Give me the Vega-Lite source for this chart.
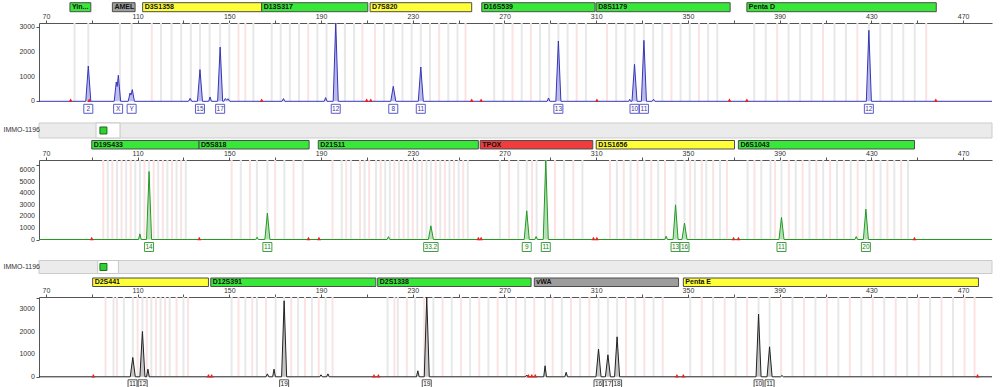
{
"$schema": "https://vega.github.io/schema/vega-lite/v6.json",
"padding": {"left": 3, "top": 0, "right": 8, "bottom": 0},
"bounds": "flush",
"spacing": 0,
"config": {
  "view": {"stroke": null},
  "font": "Liberation Sans",
  "axis": {"labelFont": "Liberation Sans", "labelFontSize": 7, "labelColor": "#333333", "tickColor": "#555555", "domainColor": "#555555", "grid": false, "tickSize": 3, "labelPadding": 1, "labelFlush": false, "labelOverlap": false}
},
"datasets": {
  "loci_blue": [
    {"dye": "blue", "locus": "Yin...", "start": 80.5, "end": 89.6, "status": "ok"},
    {"dye": "blue", "locus": "AMEL", "start": 99, "end": 108.9, "status": "info"},
    {"dye": "blue", "locus": "D3S1358", "start": 112.2, "end": 164.1, "status": "check"},
    {"dye": "blue", "locus": "D13S317", "start": 164.1, "end": 210.4, "status": "ok"},
    {"dye": "blue", "locus": "D7S820", "start": 211.4, "end": 255.7, "status": "check"},
    {"dye": "blue", "locus": "D16S539", "start": 260.1, "end": 309.5, "status": "ok"},
    {"dye": "blue", "locus": "D8S1179", "start": 310, "end": 368.4, "status": "ok"},
    {"dye": "blue", "locus": "Penta D", "start": 375.7, "end": 458.3, "status": "ok"}
  ],
  "loci_green": [
    {"dye": "green", "locus": "D19S433", "start": 90, "end": 136.8, "status": "ok"},
    {"dye": "green", "locus": "D5S818", "start": 136.8, "end": 184.8, "status": "ok"},
    {"dye": "green", "locus": "D21S11", "start": 188.8, "end": 258.6, "status": "ok"},
    {"dye": "green", "locus": "TPOX", "start": 259.4, "end": 308.5, "status": "fail"},
    {"dye": "green", "locus": "D1S1656", "start": 310, "end": 370.3, "status": "check"},
    {"dye": "green", "locus": "D6S1043", "start": 372, "end": 448.8, "status": "ok"}
  ],
  "loci_black": [
    {"dye": "black", "locus": "D2S441", "start": 90.4, "end": 140.9, "status": "check"},
    {"dye": "black", "locus": "D12S391", "start": 141.9, "end": 213.9, "status": "ok"},
    {"dye": "black", "locus": "D2S1338", "start": 214.7, "end": 281.6, "status": "ok"},
    {"dye": "black", "locus": "vWA", "start": 283, "end": 345.9, "status": "info"},
    {"dye": "black", "locus": "Penta E", "start": 348, "end": 476.7, "status": "check"}
  ],
  "bins_blue": [
    {"bp": 82.5, "kind": "bin"}, {"bp": 88.5, "kind": "bin"}, {"bp": 102.3, "kind": "bin"}, {"bp": 107.4, "kind": "bin"},
    {"bp": 116.2, "kind": "virtual"}, {"bp": 120.2, "kind": "bin"}, {"bp": 124.8, "kind": "bin"}, {"bp": 129, "kind": "bin"}, {"bp": 133.2, "kind": "bin"}, {"bp": 137.2, "kind": "bin"}, {"bp": 141.4, "kind": "bin"}, {"bp": 146, "kind": "bin"}, {"bp": 150, "kind": "bin"}, {"bp": 154, "kind": "virtual"}, {"bp": 157, "kind": "virtual"}, {"bp": 160.5, "kind": "bin"},
    {"bp": 168.5, "kind": "bin"}, {"bp": 172.4, "kind": "bin"}, {"bp": 176.4, "kind": "bin"}, {"bp": 180.4, "kind": "bin"}, {"bp": 184.4, "kind": "virtual"}, {"bp": 188.4, "kind": "bin"}, {"bp": 192.4, "kind": "bin"}, {"bp": 196.4, "kind": "bin"}, {"bp": 200.4, "kind": "bin"}, {"bp": 204.4, "kind": "bin"}, {"bp": 208, "kind": "virtual"},
    {"bp": 213.5, "kind": "virtual"}, {"bp": 217.5, "kind": "bin"}, {"bp": 221.5, "kind": "bin"}, {"bp": 225.5, "kind": "bin"}, {"bp": 229.5, "kind": "bin"}, {"bp": 233.5, "kind": "bin"}, {"bp": 237.5, "kind": "bin"}, {"bp": 241.5, "kind": "virtual"}, {"bp": 245.5, "kind": "bin"}, {"bp": 249.5, "kind": "bin"}, {"bp": 253, "kind": "virtual"},
    {"bp": 265.5, "kind": "bin"}, {"bp": 269.5, "kind": "bin"}, {"bp": 273.5, "kind": "virtual"}, {"bp": 277.5, "kind": "bin"}, {"bp": 281.5, "kind": "virtual"}, {"bp": 285.5, "kind": "bin"}, {"bp": 289.5, "kind": "bin"}, {"bp": 293.5, "kind": "bin"}, {"bp": 297.5, "kind": "bin"}, {"bp": 301.5, "kind": "virtual"}, {"bp": 305.5, "kind": "bin"},
    {"bp": 314.7, "kind": "virtual"}, {"bp": 318.7, "kind": "bin"}, {"bp": 322.7, "kind": "bin"}, {"bp": 326.7, "kind": "bin"}, {"bp": 330.8, "kind": "bin"}, {"bp": 334.8, "kind": "bin"}, {"bp": 338.8, "kind": "bin"}, {"bp": 342.8, "kind": "virtual"}, {"bp": 346.8, "kind": "bin"}, {"bp": 350.8, "kind": "bin"}, {"bp": 354.8, "kind": "virtual"}, {"bp": 358.8, "kind": "bin"}, {"bp": 362.8, "kind": "bin"},
    {"bp": 378.9, "kind": "bin"}, {"bp": 383.9, "kind": "bin"}, {"bp": 388.9, "kind": "virtual"}, {"bp": 393.9, "kind": "bin"}, {"bp": 398.9, "kind": "bin"}, {"bp": 403.9, "kind": "bin"}, {"bp": 408.9, "kind": "virtual"}, {"bp": 413.9, "kind": "bin"}, {"bp": 418.9, "kind": "bin"}, {"bp": 423.9, "kind": "virtual"}, {"bp": 428.9, "kind": "bin"}, {"bp": 433.9, "kind": "bin"}, {"bp": 438.9, "kind": "bin"}, {"bp": 443.9, "kind": "bin"}, {"bp": 448.9, "kind": "bin"}, {"bp": 453.9, "kind": "virtual"}
  ],
  "bins_green": [
    {"bp": 95, "kind": "virtual"}, {"bp": 97, "kind": "bin"}, {"bp": 99, "kind": "virtual"}, {"bp": 101, "kind": "bin"}, {"bp": 103, "kind": "virtual"}, {"bp": 105, "kind": "bin"}, {"bp": 107, "kind": "virtual"}, {"bp": 109, "kind": "bin"}, {"bp": 111, "kind": "bin"}, {"bp": 113, "kind": "virtual"}, {"bp": 115, "kind": "bin"}, {"bp": 117, "kind": "virtual"}, {"bp": 119, "kind": "bin"}, {"bp": 121, "kind": "virtual"}, {"bp": 123, "kind": "bin"}, {"bp": 125, "kind": "virtual"}, {"bp": 127, "kind": "bin"}, {"bp": 129, "kind": "virtual"}, {"bp": 131, "kind": "bin"},
    {"bp": 151, "kind": "virtual"}, {"bp": 155, "kind": "bin"}, {"bp": 159, "kind": "virtual"}, {"bp": 162, "kind": "bin"}, {"bp": 166.6, "kind": "bin"}, {"bp": 170, "kind": "virtual"}, {"bp": 174, "kind": "bin"}, {"bp": 178, "kind": "virtual"}, {"bp": 182, "kind": "bin"},
    {"bp": 195, "kind": "virtual"}, {"bp": 199, "kind": "bin"}, {"bp": 201, "kind": "virtual"}, {"bp": 203, "kind": "bin"}, {"bp": 207, "kind": "virtual"}, {"bp": 209, "kind": "bin"}, {"bp": 211, "kind": "virtual"}, {"bp": 214, "kind": "bin"}, {"bp": 216, "kind": "virtual"}, {"bp": 218, "kind": "bin"}, {"bp": 220, "kind": "bin"}, {"bp": 222, "kind": "virtual"}, {"bp": 224, "kind": "bin"}, {"bp": 226, "kind": "virtual"}, {"bp": 228, "kind": "bin"}, {"bp": 230, "kind": "virtual"}, {"bp": 232, "kind": "bin"}, {"bp": 234, "kind": "virtual"}, {"bp": 236, "kind": "bin"}, {"bp": 237.9, "kind": "bin"}, {"bp": 240, "kind": "virtual"}, {"bp": 242, "kind": "bin"}, {"bp": 244, "kind": "virtual"}, {"bp": 246, "kind": "bin"}, {"bp": 248, "kind": "virtual"}, {"bp": 250, "kind": "bin"}, {"bp": 252, "kind": "virtual"}, {"bp": 254, "kind": "bin"},
    {"bp": 268, "kind": "bin"}, {"bp": 272, "kind": "virtual"}, {"bp": 276, "kind": "bin"}, {"bp": 279.7, "kind": "bin"}, {"bp": 282, "kind": "virtual"}, {"bp": 284, "kind": "bin"}, {"bp": 288, "kind": "bin"}, {"bp": 292, "kind": "virtual"}, {"bp": 296, "kind": "bin"}, {"bp": 300, "kind": "virtual"}, {"bp": 304, "kind": "bin"},
    {"bp": 316, "kind": "virtual"}, {"bp": 319, "kind": "bin"}, {"bp": 322, "kind": "virtual"}, {"bp": 325, "kind": "bin"}, {"bp": 328, "kind": "virtual"}, {"bp": 331, "kind": "bin"}, {"bp": 334, "kind": "virtual"}, {"bp": 337, "kind": "bin"}, {"bp": 340, "kind": "virtual"}, {"bp": 344.6, "kind": "bin"}, {"bp": 348.5, "kind": "bin"}, {"bp": 351, "kind": "virtual"}, {"bp": 353, "kind": "bin"}, {"bp": 356, "kind": "virtual"}, {"bp": 358, "kind": "bin"}, {"bp": 361, "kind": "virtual"}, {"bp": 364, "kind": "bin"}, {"bp": 367, "kind": "virtual"},
    {"bp": 376, "kind": "bin"}, {"bp": 379, "kind": "virtual"}, {"bp": 382, "kind": "bin"}, {"bp": 386, "kind": "bin"}, {"bp": 388, "kind": "virtual"}, {"bp": 390.8, "kind": "bin"}, {"bp": 394, "kind": "virtual"}, {"bp": 397, "kind": "bin"}, {"bp": 400, "kind": "virtual"}, {"bp": 403, "kind": "bin"}, {"bp": 406, "kind": "virtual"}, {"bp": 409, "kind": "bin"}, {"bp": 412, "kind": "virtual"}, {"bp": 415, "kind": "bin"}, {"bp": 418, "kind": "virtual"}, {"bp": 421, "kind": "bin"}, {"bp": 424, "kind": "virtual"}, {"bp": 427.6, "kind": "bin"}, {"bp": 431, "kind": "virtual"}, {"bp": 434, "kind": "bin"}, {"bp": 437, "kind": "virtual"}, {"bp": 440, "kind": "bin"}, {"bp": 443, "kind": "virtual"}, {"bp": 446, "kind": "bin"}
  ],
  "bins_black": [
    {"bp": 96, "kind": "virtual"}, {"bp": 99.5, "kind": "bin"}, {"bp": 101, "kind": "virtual"}, {"bp": 104, "kind": "bin"}, {"bp": 107.9, "kind": "bin"}, {"bp": 110, "kind": "virtual"}, {"bp": 112.1, "kind": "bin"}, {"bp": 114, "kind": "virtual"}, {"bp": 116, "kind": "bin"}, {"bp": 118, "kind": "virtual"}, {"bp": 120, "kind": "bin"}, {"bp": 122, "kind": "virtual"}, {"bp": 124, "kind": "bin"}, {"bp": 127, "kind": "virtual"}, {"bp": 130, "kind": "bin"}, {"bp": 132, "kind": "virtual"},
    {"bp": 151, "kind": "bin"}, {"bp": 154, "kind": "virtual"}, {"bp": 157, "kind": "bin"}, {"bp": 160, "kind": "virtual"}, {"bp": 162, "kind": "bin"}, {"bp": 166, "kind": "virtual"}, {"bp": 170.2, "kind": "bin"}, {"bp": 173.9, "kind": "bin"}, {"bp": 177, "kind": "virtual"}, {"bp": 180, "kind": "bin"}, {"bp": 183, "kind": "virtual"}, {"bp": 186, "kind": "bin"}, {"bp": 189, "kind": "virtual"}, {"bp": 192, "kind": "bin"}, {"bp": 195, "kind": "virtual"},
    {"bp": 219, "kind": "bin"}, {"bp": 222, "kind": "virtual"}, {"bp": 223.5, "kind": "bin"}, {"bp": 227.4, "kind": "virtual"}, {"bp": 231, "kind": "bin"}, {"bp": 235, "kind": "virtual"}, {"bp": 239, "kind": "bin"}, {"bp": 243, "kind": "virtual"}, {"bp": 247, "kind": "bin"}, {"bp": 251, "kind": "virtual"}, {"bp": 255, "kind": "bin"}, {"bp": 259, "kind": "virtual"}, {"bp": 263, "kind": "bin"}, {"bp": 267, "kind": "virtual"}, {"bp": 271, "kind": "bin"}, {"bp": 275, "kind": "virtual"},
    {"bp": 279, "kind": "bin"}, {"bp": 283, "kind": "virtual"}, {"bp": 287.7, "kind": "bin"}, {"bp": 291, "kind": "virtual"}, {"bp": 295, "kind": "bin"}, {"bp": 299, "kind": "virtual"}, {"bp": 303, "kind": "bin"}, {"bp": 307, "kind": "virtual"}, {"bp": 311, "kind": "bin"}, {"bp": 315.1, "kind": "bin"}, {"bp": 319.1, "kind": "bin"}, {"bp": 323, "kind": "virtual"}, {"bp": 327, "kind": "bin"}, {"bp": 331, "kind": "virtual"}, {"bp": 335, "kind": "bin"}, {"bp": 339, "kind": "virtual"},
    {"bp": 351, "kind": "bin"}, {"bp": 356, "kind": "virtual"}, {"bp": 361, "kind": "bin"}, {"bp": 366, "kind": "virtual"}, {"bp": 370.8, "kind": "bin"}, {"bp": 375.8, "kind": "virtual"}, {"bp": 380.8, "kind": "bin"}, {"bp": 385.6, "kind": "bin"}, {"bp": 390.6, "kind": "virtual"}, {"bp": 395.6, "kind": "bin"}, {"bp": 400.6, "kind": "virtual"}, {"bp": 405.6, "kind": "bin"}, {"bp": 410.6, "kind": "virtual"}, {"bp": 415.6, "kind": "bin"}, {"bp": 420.6, "kind": "virtual"}, {"bp": 425.6, "kind": "bin"}, {"bp": 430.6, "kind": "virtual"}, {"bp": 435.6, "kind": "bin"}, {"bp": 440.6, "kind": "virtual"}, {"bp": 445.6, "kind": "bin"}, {"bp": 450.6, "kind": "virtual"}, {"bp": 455.6, "kind": "bin"}, {"bp": 460.6, "kind": "virtual"}, {"bp": 465.6, "kind": "bin"}, {"bp": 470.6, "kind": "virtual"}, {"bp": 475, "kind": "virtual"}
  ],
  "trace_blue": [
    {"bp": 67, "rfu": 0},
    {"bp": 87.4, "rfu": 0}, {"bp": 88.5, "rfu": 1425}, {"bp": 89.6, "rfu": 0},
    {"bp": 99.8, "rfu": 0}, {"bp": 100.7, "rfu": 780}, {"bp": 101.1, "rfu": 600}, {"bp": 101.6, "rfu": 1050}, {"bp": 102.6, "rfu": 0},
    {"bp": 105.9, "rfu": 0}, {"bp": 106.7, "rfu": 336}, {"bp": 107.1, "rfu": 250}, {"bp": 107.7, "rfu": 471}, {"bp": 108.6, "rfu": 0},
    {"bp": 132.2, "rfu": 0}, {"bp": 132.9, "rfu": 120}, {"bp": 133.6, "rfu": 0},
    {"bp": 136.1, "rfu": 0}, {"bp": 137.2, "rfu": 1280}, {"bp": 138.3, "rfu": 0},
    {"bp": 141, "rfu": 0}, {"bp": 141.6, "rfu": 175}, {"bp": 142.2, "rfu": 0},
    {"bp": 144.9, "rfu": 0}, {"bp": 146, "rfu": 2190}, {"bp": 147.1, "rfu": 0},
    {"bp": 147.6, "rfu": 0}, {"bp": 148.2, "rfu": 110}, {"bp": 148.8, "rfu": 60}, {"bp": 149.5, "rfu": 100}, {"bp": 150.2, "rfu": 0},
    {"bp": 173, "rfu": 0}, {"bp": 173.6, "rfu": 110}, {"bp": 174.2, "rfu": 0},
    {"bp": 191.4, "rfu": 0}, {"bp": 192, "rfu": 150}, {"bp": 192.6, "rfu": 0},
    {"bp": 195.3, "rfu": 0}, {"bp": 196.4, "rfu": 3160}, {"bp": 197.5, "rfu": 0},
    {"bp": 220.4, "rfu": 0}, {"bp": 221.5, "rfu": 605}, {"bp": 222.6, "rfu": 0},
    {"bp": 232.4, "rfu": 0}, {"bp": 233.5, "rfu": 1385}, {"bp": 234.6, "rfu": 0},
    {"bp": 288.6, "rfu": 0}, {"bp": 289.2, "rfu": 135}, {"bp": 289.8, "rfu": 0},
    {"bp": 292.4, "rfu": 0}, {"bp": 293.5, "rfu": 2435}, {"bp": 294.6, "rfu": 0},
    {"bp": 324.2, "rfu": 0}, {"bp": 324.6, "rfu": 80}, {"bp": 325, "rfu": 0},
    {"bp": 325.6, "rfu": 0}, {"bp": 326.7, "rfu": 1494}, {"bp": 327.8, "rfu": 0},
    {"bp": 329.7, "rfu": 0}, {"bp": 330.8, "rfu": 2463}, {"bp": 331.9, "rfu": 0},
    {"bp": 334.4, "rfu": 0}, {"bp": 335, "rfu": 80}, {"bp": 335.6, "rfu": 0},
    {"bp": 427.8, "rfu": 0}, {"bp": 428.9, "rfu": 2866}, {"bp": 430, "rfu": 0},
    {"bp": 482.6, "rfu": 0}
  ],
  "trace_green": [
    {"bp": 67, "rfu": 0},
    {"bp": 110.4, "rfu": 0}, {"bp": 111, "rfu": 490}, {"bp": 111.6, "rfu": 0},
    {"bp": 113.9, "rfu": 0}, {"bp": 115, "rfu": 5913}, {"bp": 116.1, "rfu": 0},
    {"bp": 161.5, "rfu": 0}, {"bp": 162.1, "rfu": 200}, {"bp": 162.7, "rfu": 0},
    {"bp": 165.5, "rfu": 0}, {"bp": 166.6, "rfu": 2290}, {"bp": 167.7, "rfu": 0},
    {"bp": 218.8, "rfu": 0}, {"bp": 219.4, "rfu": 250}, {"bp": 220, "rfu": 0},
    {"bp": 236.8, "rfu": 0}, {"bp": 237.9, "rfu": 1190}, {"bp": 239, "rfu": 0},
    {"bp": 278.6, "rfu": 0}, {"bp": 279.7, "rfu": 2493}, {"bp": 280.8, "rfu": 0},
    {"bp": 283.2, "rfu": 0}, {"bp": 283.8, "rfu": 260}, {"bp": 284.4, "rfu": 0},
    {"bp": 286.9, "rfu": 0}, {"bp": 288, "rfu": 6900}, {"bp": 289.1, "rfu": 0},
    {"bp": 339.9, "rfu": 0}, {"bp": 340.5, "rfu": 290}, {"bp": 341.1, "rfu": 0},
    {"bp": 343.5, "rfu": 0}, {"bp": 344.6, "rfu": 3014}, {"bp": 345.7, "rfu": 0},
    {"bp": 347.4, "rfu": 0}, {"bp": 348.5, "rfu": 1420}, {"bp": 349.6, "rfu": 0},
    {"bp": 389.7, "rfu": 0}, {"bp": 390.8, "rfu": 1913}, {"bp": 391.9, "rfu": 0},
    {"bp": 422.8, "rfu": 0}, {"bp": 423.4, "rfu": 260}, {"bp": 424, "rfu": 0},
    {"bp": 426.5, "rfu": 0}, {"bp": 427.6, "rfu": 2638}, {"bp": 428.7, "rfu": 0},
    {"bp": 482.6, "rfu": 0}
  ],
  "trace_black": [
    {"bp": 67, "rfu": 0},
    {"bp": 106.8, "rfu": 0}, {"bp": 107.9, "rfu": 857}, {"bp": 109, "rfu": 0},
    {"bp": 111, "rfu": 0}, {"bp": 112.1, "rfu": 2009}, {"bp": 113.2, "rfu": 0},
    {"bp": 113.9, "rfu": 0}, {"bp": 114.5, "rfu": 340}, {"bp": 115.1, "rfu": 0},
    {"bp": 166, "rfu": 0}, {"bp": 166.6, "rfu": 130}, {"bp": 167.2, "rfu": 0},
    {"bp": 168.9, "rfu": 0}, {"bp": 169.5, "rfu": 340}, {"bp": 170.1, "rfu": 0},
    {"bp": 172.8, "rfu": 0}, {"bp": 173.9, "rfu": 3369}, {"bp": 175, "rfu": 0},
    {"bp": 189.4, "rfu": 0}, {"bp": 190, "rfu": 90}, {"bp": 190.6, "rfu": 0},
    {"bp": 192.4, "rfu": 0}, {"bp": 193, "rfu": 130}, {"bp": 193.6, "rfu": 0},
    {"bp": 231.6, "rfu": 0}, {"bp": 232.2, "rfu": 266}, {"bp": 232.8, "rfu": 0},
    {"bp": 235, "rfu": 0}, {"bp": 236.1, "rfu": 3530}, {"bp": 237.2, "rfu": 0},
    {"bp": 279.1, "rfu": 0}, {"bp": 279.7, "rfu": 80}, {"bp": 280.3, "rfu": 0},
    {"bp": 287.1, "rfu": 0}, {"bp": 287.7, "rfu": 488}, {"bp": 288.3, "rfu": 0},
    {"bp": 296.3, "rfu": 0}, {"bp": 296.9, "rfu": 200}, {"bp": 297.5, "rfu": 0},
    {"bp": 309.9, "rfu": 0}, {"bp": 311, "rfu": 1226}, {"bp": 312.1, "rfu": 0},
    {"bp": 314, "rfu": 0}, {"bp": 315.1, "rfu": 975}, {"bp": 316.2, "rfu": 0},
    {"bp": 318, "rfu": 0}, {"bp": 319.1, "rfu": 1773}, {"bp": 320.2, "rfu": 0},
    {"bp": 379.7, "rfu": 0}, {"bp": 380.8, "rfu": 2778}, {"bp": 381.9, "rfu": 0},
    {"bp": 384.5, "rfu": 0}, {"bp": 385.6, "rfu": 1330}, {"bp": 386.7, "rfu": 0},
    {"bp": 390.4, "rfu": 0}, {"bp": 391, "rfu": 60}, {"bp": 391.6, "rfu": 0},
    {"bp": 482.6, "rfu": 0}
  ],
  "alleles_blue": [
    {"bp": 88.5, "allele": "2"}, {"bp": 101.5, "allele": "X"}, {"bp": 107.4, "allele": "Y"}, {"bp": 137.2, "allele": "15"}, {"bp": 146, "allele": "17"}, {"bp": 196.4, "allele": "12"}, {"bp": 221.5, "allele": "8"}, {"bp": 233.5, "allele": "11"}, {"bp": 293.5, "allele": "13"}, {"bp": 326.7, "allele": "10"}, {"bp": 330.8, "allele": "11"}, {"bp": 428.9, "allele": "12"}
  ],
  "alleles_green": [
    {"bp": 115, "allele": "14"}, {"bp": 166.6, "allele": "11"}, {"bp": 237.9, "allele": "33.2"}, {"bp": 279.7, "allele": "9"}, {"bp": 288, "allele": "11"}, {"bp": 344.6, "allele": "13"}, {"bp": 348.5, "allele": "16"}, {"bp": 390.8, "allele": "11"}, {"bp": 427.6, "allele": "20"}
  ],
  "alleles_black": [
    {"bp": 107.8, "allele": "11"}, {"bp": 112.2, "allele": "12"}, {"bp": 173.9, "allele": "19"}, {"bp": 236.1, "allele": "19"}, {"bp": 311, "allele": "16"}, {"bp": 315.1, "allele": "17"}, {"bp": 319.1, "allele": "18"}, {"bp": 380.8, "allele": "10"}, {"bp": 385.6, "allele": "11"}
  ],
  "markers_blue": [
    {"bp": 80.8}, {"bp": 88.9}, {"bp": 164.1}, {"bp": 209.9}, {"bp": 211.7}, {"bp": 255.7}, {"bp": 259.8}, {"bp": 310.3}, {"bp": 368.1}, {"bp": 375.7}, {"bp": 458.1}
  ],
  "markers_green": [
    {"bp": 90}, {"bp": 136.9}, {"bp": 184.5}, {"bp": 189.1}, {"bp": 258.6}, {"bp": 259.8}, {"bp": 308.8}, {"bp": 310.3}, {"bp": 369.9}, {"bp": 372}, {"bp": 448.8}
  ],
  "markers_black": [
    {"bp": 90.7}, {"bp": 140.9}, {"bp": 142.3}, {"bp": 213.1}, {"bp": 215}, {"bp": 280.4}, {"bp": 281.9}, {"bp": 283.4}, {"bp": 345.2}, {"bp": 348}, {"bp": 476.3}
  ],
  "sample": [{"sample": "IMMO-1196"}],
  "tick": [{"label": "tick"}]
},
"vconcat": [
  {
    "width": 953, "height": 22.7,
    "data": {"name": "loci_blue"},
    "encoding": {
      "x": {"field": "start", "type": "quantitative", "scale": {"domain": [67, 482.6], "nice": false, "zero": false}, "axis": null},
      "y": {"field": "dye", "type": "nominal", "axis": null, "scale": {"paddingInner": 0, "paddingOuter": 0.761, "align": 0.197}}
    },
    "layer": [
      {"mark": {"type": "rect", "stroke": "#4d4d4d", "strokeWidth": 1}, "encoding": {"x2": {"field": "end"}, "fill": {"field": "status", "type": "nominal", "scale": {"domain": ["ok", "check", "fail", "info"], "range": ["#38e838", "#ffff38", "#f03c3c", "#9d9d9d"]}, "legend": null}}},
      {"mark": {"type": "text", "align": "left", "dx": 2, "fontSize": 7, "fontWeight": "bold", "color": "#111111", "baseline": "middle"}, "encoding": {"text": {"field": "locus"}}}
    ]
  },
  {
    "width": 953, "height": 78.3,
    "layer": [
      {"data": {"name": "bins_blue"}, "mark": {"type": "rule", "strokeWidth": 2}, "encoding": {"x": {"field": "bp", "type": "quantitative", "scale": {"domain": [67, 482.6], "nice": false, "zero": false}, "axis": {"orient": "top", "title": null, "values": [70, 90, 110, 130, 150, 170, 190, 210, 230, 250, 270, 290, 310, 330, 350, 370, 390, 410, 430, 450, 470], "labelExpr": "(datum.value - 70) % 40 == 0 ? datum.label : ''"}}, "stroke": {"field": "kind", "type": "nominal", "scale": {"domain": ["bin", "virtual"], "range": ["#e8e8e8", "#fbe3e3"]}, "legend": null}}},
      {"data": {"name": "trace_blue"}, "mark": {"type": "area", "fill": "#a6a6ea", "fillOpacity": 0.7}, "encoding": {"x": {"field": "bp", "type": "quantitative"}, "y": {"field": "rfu", "type": "quantitative", "stack": null, "scale": {"domain": [0, 3161], "nice": false}, "axis": {"title": null, "values": [0, 500, 1000, 1500, 2000, 2500, 3000], "labels": false}}}},
      {"data": {"name": "trace_blue"}, "mark": {"type": "line", "stroke": "#3636b8", "strokeWidth": 1}, "encoding": {"x": {"field": "bp", "type": "quantitative"}, "y": {"field": "rfu", "type": "quantitative"}}},
      {"data": {"name": "tick"}, "mark": {"type": "text", "align": "right", "baseline": "middle", "dx": -4, "fontSize": 7, "color": "#333333"}, "encoding": {"x": {"datum": 67, "type": "quantitative"}, "y": {"datum": 0, "type": "quantitative"}, "text": {"value": "0"}}},
      {"data": {"name": "tick"}, "mark": {"type": "text", "align": "right", "baseline": "middle", "dx": -4, "fontSize": 7, "color": "#333333"}, "encoding": {"x": {"datum": 67, "type": "quantitative"}, "y": {"datum": 1000, "type": "quantitative"}, "text": {"value": "1000"}}},
      {"data": {"name": "tick"}, "mark": {"type": "text", "align": "right", "baseline": "middle", "dx": -4, "fontSize": 7, "color": "#333333"}, "encoding": {"x": {"datum": 67, "type": "quantitative"}, "y": {"datum": 2000, "type": "quantitative"}, "text": {"value": "2000"}}},
      {"data": {"name": "tick"}, "mark": {"type": "text", "align": "right", "baseline": "middle", "dx": -4, "fontSize": 7, "color": "#333333"}, "encoding": {"x": {"datum": 67, "type": "quantitative"}, "y": {"datum": 3000, "type": "quantitative"}, "text": {"value": "3000"}}},
      {"data": {"name": "markers_blue"}, "mark": {"type": "point", "shape": "triangle-up", "size": 16, "filled": true, "fill": "#e52222", "stroke": null, "opacity": 1, "yOffset": -1}, "encoding": {"x": {"field": "bp", "type": "quantitative"}, "y": {"datum": 0}}},
      {"data": {"name": "alleles_blue"}, "mark": {"type": "point", "fill": "#ffffff", "stroke": "#5b5bc8", "strokeWidth": 1, "size": 81, "yOffset": 7.5, "opacity": 1}, "encoding": {"x": {"field": "bp", "type": "quantitative"}, "y": {"datum": 0}, "shape": {"condition": {"test": "length(datum.allele) > 2", "value": "M-1.6,-1H1.6V1H-1.6Z"}, "value": "square"}}},
      {"data": {"name": "alleles_blue"}, "mark": {"type": "text", "fontSize": 6.5, "color": "#3a3a9a", "yOffset": 7.5, "baseline": "middle"}, "encoding": {"x": {"field": "bp", "type": "quantitative"}, "y": {"datum": 0}, "text": {"field": "allele"}}}
    ]
  },
  {
    "width": 953, "height": 37,
    "data": {"name": "sample"},
    "encoding": {"y": {"field": "sample", "type": "nominal", "scale": {"paddingInner": 0, "paddingOuter": 0.7333, "align": 0.9545}, "axis": {"title": null, "domain": false, "ticks": false, "labelAlign": "left", "labelPadding": 36, "labelFontSize": 7, "labelColor": "#333333"}}},
    "layer": [
      {"mark": {"type": "rect", "fill": "#ebebeb", "stroke": "#cccccc", "strokeWidth": 1}},
      {"mark": {"type": "point", "shape": "M-1.6,-1H1.6V1H-1.6Z", "size": 225, "fill": "#ffffff", "stroke": "#c8c8c8", "strokeWidth": 1, "opacity": 1}, "encoding": {"x": {"datum": 97.1, "type": "quantitative", "scale": {"domain": [67, 482.6], "nice": false, "zero": false}, "axis": null}}},
      {"mark": {"type": "point", "shape": "square", "size": 49, "fill": "#2ed12e", "stroke": "#1b6b1b", "strokeWidth": 1, "opacity": 1}, "encoding": {"x": {"datum": 95.1, "type": "quantitative"}}}
    ]
  },
  {
    "width": 953, "height": 20.5,
    "data": {"name": "loci_green"},
    "encoding": {
      "x": {"field": "start", "type": "quantitative", "scale": {"domain": [67, 482.6], "nice": false, "zero": false}, "axis": null},
      "y": {"field": "dye", "type": "nominal", "axis": null, "scale": {"paddingInner": 0, "paddingOuter": 0.706, "align": 0.125}}
    },
    "layer": [
      {"mark": {"type": "rect", "stroke": "#4d4d4d", "strokeWidth": 1}, "encoding": {"x2": {"field": "end"}, "fill": {"field": "status", "type": "nominal", "scale": {"domain": ["ok", "check", "fail", "info"], "range": ["#38e838", "#ffff38", "#f03c3c", "#9d9d9d"]}, "legend": null}}},
      {"mark": {"type": "text", "align": "left", "dx": 2, "fontSize": 7, "fontWeight": "bold", "color": "#111111", "baseline": "middle"}, "encoding": {"text": {"field": "locus"}}}
    ]
  },
  {
    "width": 953, "height": 79.5,
    "layer": [
      {"data": {"name": "bins_green"}, "mark": {"type": "rule", "strokeWidth": 2}, "encoding": {"x": {"field": "bp", "type": "quantitative", "scale": {"domain": [67, 482.6], "nice": false, "zero": false}, "axis": {"orient": "top", "title": null, "values": [70, 90, 110, 130, 150, 170, 190, 210, 230, 250, 270, 290, 310, 330, 350, 370, 390, 410, 430, 450, 470], "labelExpr": "(datum.value - 70) % 40 == 0 ? datum.label : ''"}}, "stroke": {"field": "kind", "type": "nominal", "scale": {"domain": ["bin", "virtual"], "range": ["#e8e8e8", "#fbe3e3"]}, "legend": null}}},
      {"data": {"name": "trace_green"}, "mark": {"type": "area", "fill": "#9edc9e", "fillOpacity": 0.7}, "encoding": {"x": {"field": "bp", "type": "quantitative"}, "y": {"field": "rfu", "type": "quantitative", "stack": null, "scale": {"domain": [0, 6913], "nice": false}, "axis": {"title": null, "values": [0, 500, 1000, 1500, 2000, 2500, 3000, 3500, 4000, 4500, 5000, 5500, 6000, 6500], "labels": false}}}},
      {"data": {"name": "trace_green"}, "mark": {"type": "line", "stroke": "#249a24", "strokeWidth": 1}, "encoding": {"x": {"field": "bp", "type": "quantitative"}, "y": {"field": "rfu", "type": "quantitative"}}},
      {"data": {"name": "tick"}, "mark": {"type": "text", "align": "right", "baseline": "middle", "dx": -4, "fontSize": 7, "color": "#333333"}, "encoding": {"x": {"datum": 67, "type": "quantitative"}, "y": {"datum": 0, "type": "quantitative"}, "text": {"value": "0"}}},
      {"data": {"name": "tick"}, "mark": {"type": "text", "align": "right", "baseline": "middle", "dx": -4, "fontSize": 7, "color": "#333333"}, "encoding": {"x": {"datum": 67, "type": "quantitative"}, "y": {"datum": 1000, "type": "quantitative"}, "text": {"value": "1000"}}},
      {"data": {"name": "tick"}, "mark": {"type": "text", "align": "right", "baseline": "middle", "dx": -4, "fontSize": 7, "color": "#333333"}, "encoding": {"x": {"datum": 67, "type": "quantitative"}, "y": {"datum": 2000, "type": "quantitative"}, "text": {"value": "2000"}}},
      {"data": {"name": "tick"}, "mark": {"type": "text", "align": "right", "baseline": "middle", "dx": -4, "fontSize": 7, "color": "#333333"}, "encoding": {"x": {"datum": 67, "type": "quantitative"}, "y": {"datum": 3000, "type": "quantitative"}, "text": {"value": "3000"}}},
      {"data": {"name": "tick"}, "mark": {"type": "text", "align": "right", "baseline": "middle", "dx": -4, "fontSize": 7, "color": "#333333"}, "encoding": {"x": {"datum": 67, "type": "quantitative"}, "y": {"datum": 4000, "type": "quantitative"}, "text": {"value": "4000"}}},
      {"data": {"name": "tick"}, "mark": {"type": "text", "align": "right", "baseline": "middle", "dx": -4, "fontSize": 7, "color": "#333333"}, "encoding": {"x": {"datum": 67, "type": "quantitative"}, "y": {"datum": 5000, "type": "quantitative"}, "text": {"value": "5000"}}},
      {"data": {"name": "tick"}, "mark": {"type": "text", "align": "right", "baseline": "middle", "dx": -4, "fontSize": 7, "color": "#333333"}, "encoding": {"x": {"datum": 67, "type": "quantitative"}, "y": {"datum": 6000, "type": "quantitative"}, "text": {"value": "6000"}}},
      {"data": {"name": "markers_green"}, "mark": {"type": "point", "shape": "triangle-up", "size": 16, "filled": true, "fill": "#e52222", "stroke": null, "opacity": 1, "yOffset": -1}, "encoding": {"x": {"field": "bp", "type": "quantitative"}, "y": {"datum": 0}}},
      {"data": {"name": "alleles_green"}, "mark": {"type": "point", "fill": "#ffffff", "stroke": "#3f9f3f", "strokeWidth": 1, "size": 81, "yOffset": 7.5, "opacity": 1}, "encoding": {"x": {"field": "bp", "type": "quantitative"}, "y": {"datum": 0}, "shape": {"condition": {"test": "length(datum.allele) > 2", "value": "M-1.6,-1H1.6V1H-1.6Z"}, "value": "square"}}},
      {"data": {"name": "alleles_green"}, "mark": {"type": "text", "fontSize": 6.5, "color": "#2a7a2a", "yOffset": 7.5, "baseline": "middle"}, "encoding": {"x": {"field": "bp", "type": "quantitative"}, "y": {"datum": 0}, "text": {"field": "allele"}}}
    ]
  },
  {
    "width": 953, "height": 34,
    "data": {"name": "sample"},
    "encoding": {"y": {"field": "sample", "type": "nominal", "scale": {"paddingInner": 0, "paddingOuter": 0.8077, "align": 0.976}, "axis": {"title": null, "domain": false, "ticks": false, "labelAlign": "left", "labelPadding": 36, "labelFontSize": 7, "labelColor": "#333333"}}},
    "layer": [
      {"mark": {"type": "rect", "fill": "#ebebeb", "stroke": "#cccccc", "strokeWidth": 1}},
      {"mark": {"type": "point", "shape": "M-1.6,-1H1.6V1H-1.6Z", "size": 169, "fill": "#ffffff", "stroke": "#c8c8c8", "strokeWidth": 1, "opacity": 1}, "encoding": {"x": {"datum": 97.1, "type": "quantitative", "scale": {"domain": [67, 482.6], "nice": false, "zero": false}, "axis": null}}},
      {"mark": {"type": "point", "shape": "square", "size": 49, "fill": "#2ed12e", "stroke": "#1b6b1b", "strokeWidth": 1, "opacity": 1}, "encoding": {"x": {"datum": 95.1, "type": "quantitative"}}}
    ]
  },
  {
    "width": 953, "height": 22.5,
    "data": {"name": "loci_black"},
    "encoding": {
      "x": {"field": "start", "type": "quantitative", "scale": {"domain": [67, 482.6], "nice": false, "zero": false}, "axis": null},
      "y": {"field": "dye", "type": "nominal", "axis": null, "scale": {"paddingInner": 0, "paddingOuter": 0.8235, "align": 0.286}}
    },
    "layer": [
      {"mark": {"type": "rect", "stroke": "#4d4d4d", "strokeWidth": 1}, "encoding": {"x2": {"field": "end"}, "fill": {"field": "status", "type": "nominal", "scale": {"domain": ["ok", "check", "fail", "info"], "range": ["#38e838", "#ffff38", "#f03c3c", "#9d9d9d"]}, "legend": null}}},
      {"mark": {"type": "text", "align": "left", "dx": 2, "fontSize": 7, "fontWeight": "bold", "color": "#111111", "baseline": "middle"}, "encoding": {"text": {"field": "locus"}}}
    ]
  },
  {
    "width": 953, "height": 79.8,
    "layer": [
      {"data": {"name": "bins_black"}, "mark": {"type": "rule", "strokeWidth": 2}, "encoding": {"x": {"field": "bp", "type": "quantitative", "scale": {"domain": [67, 482.6], "nice": false, "zero": false}, "axis": {"orient": "top", "title": null, "values": [70, 90, 110, 130, 150, 170, 190, 210, 230, 250, 270, 290, 310, 330, 350, 370, 390, 410, 430, 450, 470], "labelExpr": "(datum.value - 70) % 40 == 0 ? datum.label : ''"}}, "stroke": {"field": "kind", "type": "nominal", "scale": {"domain": ["bin", "virtual"], "range": ["#e8e8e8", "#fbe3e3"]}, "legend": null}}},
      {"data": {"name": "trace_black"}, "mark": {"type": "area", "fill": "#b4b4b4", "fillOpacity": 0.7}, "encoding": {"x": {"field": "bp", "type": "quantitative"}, "y": {"field": "rfu", "type": "quantitative", "stack": null, "scale": {"domain": [0, 3537], "nice": false}, "axis": {"title": null, "values": [0, 500, 1000, 1500, 2000, 2500, 3000, 3500], "labels": false}}}},
      {"data": {"name": "trace_black"}, "mark": {"type": "line", "stroke": "#222222", "strokeWidth": 1}, "encoding": {"x": {"field": "bp", "type": "quantitative"}, "y": {"field": "rfu", "type": "quantitative"}}},
      {"data": {"name": "tick"}, "mark": {"type": "text", "align": "right", "baseline": "middle", "dx": -4, "fontSize": 7, "color": "#333333"}, "encoding": {"x": {"datum": 67, "type": "quantitative"}, "y": {"datum": 0, "type": "quantitative"}, "text": {"value": "0"}}},
      {"data": {"name": "tick"}, "mark": {"type": "text", "align": "right", "baseline": "middle", "dx": -4, "fontSize": 7, "color": "#333333"}, "encoding": {"x": {"datum": 67, "type": "quantitative"}, "y": {"datum": 1000, "type": "quantitative"}, "text": {"value": "1000"}}},
      {"data": {"name": "tick"}, "mark": {"type": "text", "align": "right", "baseline": "middle", "dx": -4, "fontSize": 7, "color": "#333333"}, "encoding": {"x": {"datum": 67, "type": "quantitative"}, "y": {"datum": 2000, "type": "quantitative"}, "text": {"value": "2000"}}},
      {"data": {"name": "tick"}, "mark": {"type": "text", "align": "right", "baseline": "middle", "dx": -4, "fontSize": 7, "color": "#333333"}, "encoding": {"x": {"datum": 67, "type": "quantitative"}, "y": {"datum": 3000, "type": "quantitative"}, "text": {"value": "3000"}}},
      {"data": {"name": "markers_black"}, "mark": {"type": "point", "shape": "triangle-up", "size": 16, "filled": true, "fill": "#e52222", "stroke": null, "opacity": 1, "yOffset": -1}, "encoding": {"x": {"field": "bp", "type": "quantitative"}, "y": {"datum": 0}}},
      {"data": {"name": "alleles_black"}, "mark": {"type": "point", "fill": "#ffffff", "stroke": "#555555", "strokeWidth": 1, "size": 81, "yOffset": 7.5, "opacity": 1}, "encoding": {"x": {"field": "bp", "type": "quantitative"}, "y": {"datum": 0}, "shape": {"condition": {"test": "length(datum.allele) > 2", "value": "M-1.6,-1H1.6V1H-1.6Z"}, "value": "square"}}},
      {"data": {"name": "alleles_black"}, "mark": {"type": "text", "fontSize": 6.5, "color": "#222222", "yOffset": 7.5, "baseline": "middle"}, "encoding": {"x": {"field": "bp", "type": "quantitative"}, "y": {"datum": 0}, "text": {"field": "allele"}}}
    ]
  }
]
}
